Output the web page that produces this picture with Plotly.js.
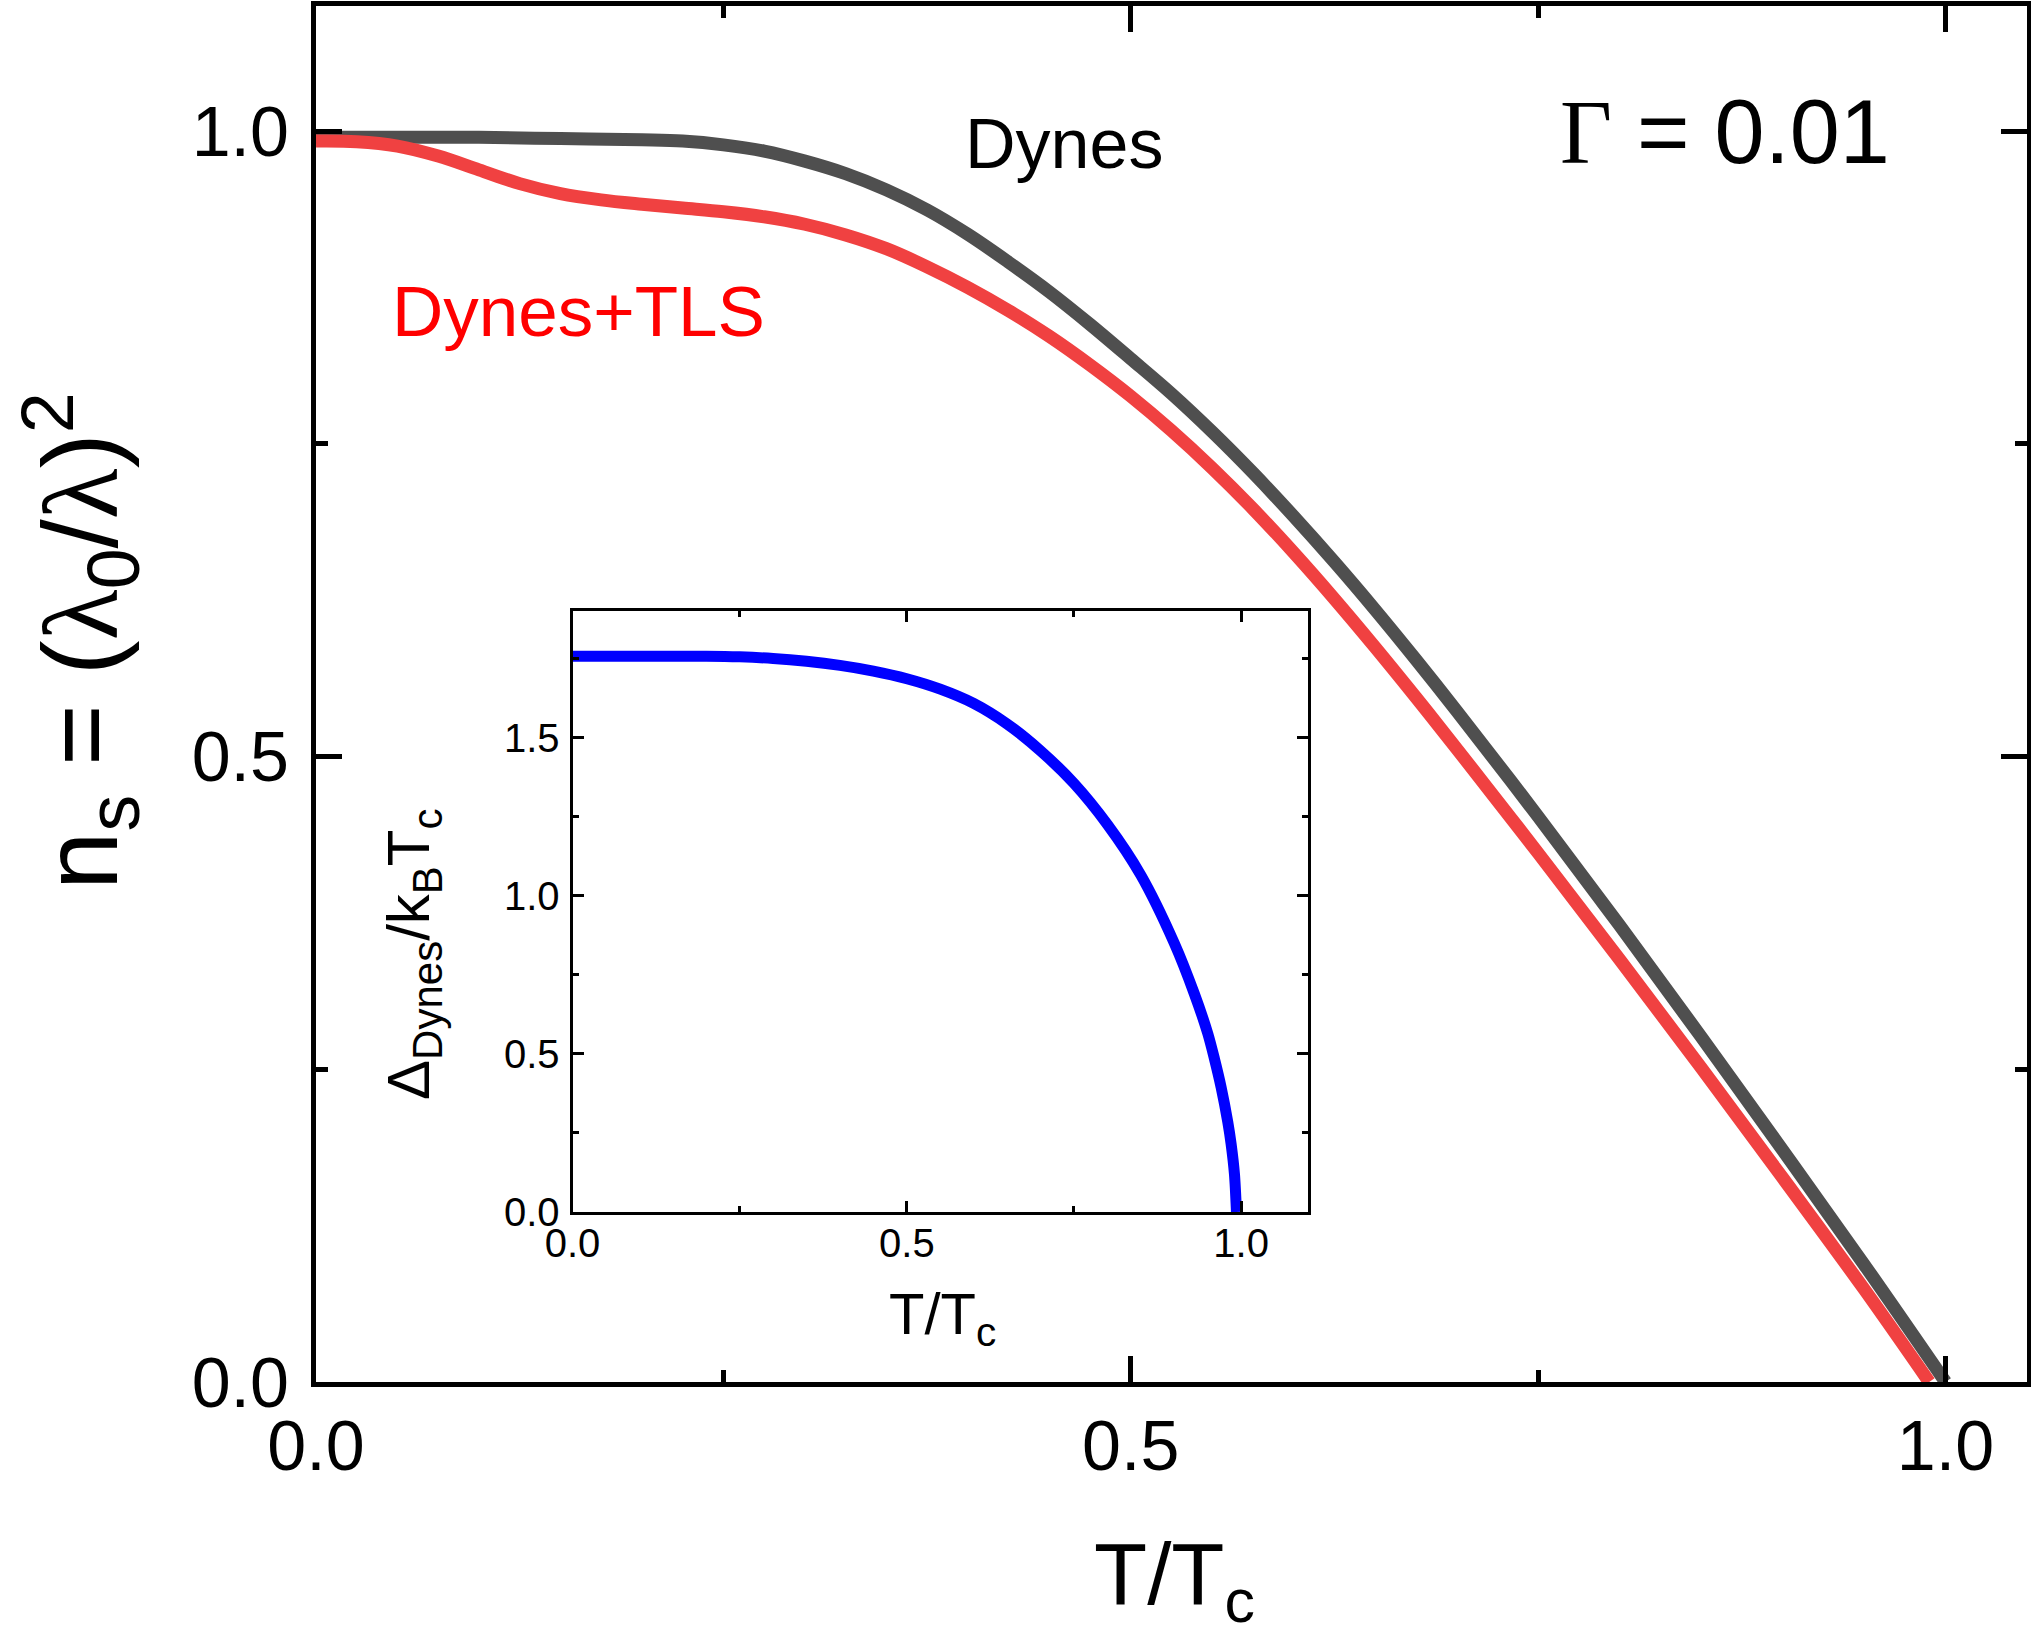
<!DOCTYPE html>
<html>
<head>
<meta charset="utf-8">
<script src="https://cdn.plot.ly/plotly-3.0.1.min.js"></script>
<style>
  body { margin: 0; background: white; }
  #chart { width: 2031px; height: 1646px; }
</style>
</head>
<body>
<div id="chart"></div>
<script>
// main panel: superfluid density vs T/Tc
var tDynes = [0, 0.1, 0.15, 0.2, 0.225, 0.25, 0.275, 0.3, 0.325, 0.35, 0.375, 0.4, 0.425, 0.45, 0.475, 0.5, 0.525, 0.55, 0.575, 0.6, 0.625, 0.65, 0.675, 0.7, 0.75, 0.8, 0.85, 0.9, 0.95, 1.0];
var nsDynes = [0.995, 0.995, 0.994, 0.993, 0.992, 0.989, 0.984, 0.976, 0.966, 0.953, 0.937, 0.9175, 0.8952, 0.8715, 0.8455, 0.818, 0.790, 0.7595, 0.7268, 0.692, 0.6555, 0.6173, 0.5775, 0.5365, 0.452, 0.365, 0.276, 0.1855, 0.094, 0];

var tTLS = [0, 0.025, 0.05, 0.075, 0.1, 0.125, 0.15, 0.175, 0.2, 0.225, 0.25, 0.275, 0.3, 0.325, 0.35, 0.375, 0.4, 0.425, 0.45, 0.475, 0.5, 0.525, 0.55, 0.575, 0.6, 0.625, 0.65, 0.675, 0.7, 0.75, 0.8, 0.85, 0.9, 0.95, 0.99];
var nsTLS = [0.992, 0.9915, 0.988, 0.980, 0.969, 0.958, 0.950, 0.945, 0.9415, 0.9385, 0.9355, 0.9315, 0.9255, 0.917, 0.906, 0.8915, 0.875, 0.8565, 0.836, 0.813, 0.788, 0.7605, 0.7305, 0.698, 0.663, 0.626, 0.5873, 0.5473, 0.5063, 0.4228, 0.3378, 0.2513, 0.1633, 0.0743, 0];

// inset: gap vs T/Tc
var tGap = [0, 0.1, 0.2, 0.25, 0.3, 0.35, 0.4, 0.45, 0.5, 0.55, 0.6, 0.65, 0.7, 0.75, 0.8, 0.85, 0.9, 0.93, 0.95, 0.96, 0.97, 0.98, 0.985, 0.99, 0.993];
var gapDynes = [1.757, 1.757, 1.757, 1.755, 1.75, 1.741, 1.728, 1.71, 1.686, 1.653, 1.608, 1.543, 1.458, 1.355, 1.225, 1.065, 0.85, 0.69, 0.565, 0.485, 0.395, 0.285, 0.215, 0.12, 0];

var mainTicks = [0, 0.5, 1.0];
var mainTickText = ["0.0", "0.5", "1.0"];
var insetYTicks = [0, 0.5, 1.0, 1.5];
var insetYTickText = ["0.0", "0.5", "1.0", "1.5"];

var W = 2031, H = 1646;
var M = {l: 316, r: 4, t: 6, b: 264};
var pw = W - M.l - M.r, ph = H - M.t - M.b;
function px(x) { return (x - M.l) / pw; }
function py(y) { return (H - M.b - y) / ph; }

var font = "Liberation Sans, Arial, sans-serif";
var serif = "Liberation Serif, Times New Roman, serif";

var traces = [
  {x: tDynes, y: nsDynes, type: 'scatter', mode: 'lines',
   line: {color: '#4f4f4f', width: 13, shape: 'spline', smoothing: 1}},
  {x: tTLS, y: nsTLS, type: 'scatter', mode: 'lines',
   line: {color: '#f04141', width: 13, shape: 'spline', smoothing: 1}},
  {x: tGap, y: gapDynes, type: 'scatter', mode: 'lines', xaxis: 'x2', yaxis: 'y2',
   line: {color: '#0000ff', width: 11, shape: 'spline', smoothing: 0.8}}
];

function axisStyle(o) {
  var base = {
    showline: true, linecolor: 'black', mirror: 'allticks',
    ticks: 'inside', tickcolor: 'black',
    showgrid: false, zeroline: false, fixedrange: true
  };
  for (var k in o) base[k] = o[k];
  return base;
}

var layout = {
  width: W, height: H,
  margin: {l: M.l, r: M.r, t: M.t, b: M.b, pad: 0},
  paper_bgcolor: 'white', plot_bgcolor: 'rgba(0,0,0,0)',
  showlegend: false,
  font: {family: font, color: 'black'},
  xaxis: axisStyle({
    domain: [0, 1], anchor: 'y', range: [0, 1.05],
    tickvals: mainTicks, ticktext: mainTickText,
    linewidth: 5, ticklen: 26, tickwidth: 5, ticklabelstandoff: -1,
    tickfont: {size: 70, family: font},
    minor: {tickvals: [0.25, 0.75], ticks: 'inside', ticklen: 12, tickwidth: 5, tickcolor: 'black', showgrid: false}
  }),
  yaxis: axisStyle({
    domain: [0, 1], anchor: 'x', range: [0, 1.1],
    tickvals: mainTicks, ticktext: mainTickText,
    linewidth: 5, ticklen: 26, tickwidth: 5, ticklabelstandoff: 8,
    tickfont: {size: 70, family: font},
    minor: {tickvals: [0.25, 0.75], ticks: 'inside', ticklen: 12, tickwidth: 5, tickcolor: 'black', showgrid: false}
  }),
  xaxis2: axisStyle({
    domain: [px(572.5), px(1308)], anchor: 'y2', range: [0, 1.1],
    tickvals: mainTicks, ticktext: mainTickText,
    linewidth: 3, ticklen: 11, tickwidth: 3, ticklabelstandoff: -6,
    tickfont: {size: 40, family: font},
    minor: {tickvals: [0.25, 0.75], ticks: 'inside', ticklen: 6, tickwidth: 3, tickcolor: 'black', showgrid: false}
  }),
  yaxis2: axisStyle({
    domain: [py(1212), py(611)], anchor: 'x2', range: [0, 1.9],
    tickvals: insetYTicks, ticktext: insetYTickText,
    linewidth: 3, ticklen: 11, tickwidth: 3, ticklabelstandoff: 2,
    tickfont: {size: 40, family: font},
    minor: {tickvals: [0.25, 0.75, 1.25, 1.75], ticks: 'inside', ticklen: 6, tickwidth: 3, tickcolor: 'black', showgrid: false}
  }),
  annotations: [
    // axis titles
    {text: 'n<sub>s</sub> = (<span style="font-family:' + serif + '">λ</span><sub>0</sub>/<span style="font-family:' + serif + '">λ</span>)<sup>2</sup>',
     xref: 'paper', yref: 'paper', x: px(80), y: py(641), xanchor: 'center', yanchor: 'middle',
     textangle: -90, showarrow: false, font: {size: 105, family: font, color: 'black'}},
    {text: 'T/T<sub>c</sub>', xref: 'paper', yref: 'paper', x: px(1174), y: py(1580),
     xanchor: 'center', yanchor: 'middle', showarrow: false, font: {size: 87, family: font, color: 'black'}},
    {text: 'Δ<sub>Dynes</sub>/k<sub>B</sub>T<sub>c</sub>', xref: 'paper', yref: 'paper', x: px(413), y: py(955),
     xanchor: 'center', yanchor: 'middle', textangle: -90, showarrow: false, font: {size: 60, family: font, color: 'black'}},
    {text: 'T/T<sub>c</sub>', xref: 'paper', yref: 'paper', x: px(942), y: py(1318),
     xanchor: 'center', yanchor: 'middle', showarrow: false, font: {size: 58, family: font, color: 'black'}},
    // curve labels
    {text: 'Dynes', xref: 'paper', yref: 'paper', x: px(963), y: py(144),
     xanchor: 'left', yanchor: 'middle', showarrow: false, font: {size: 70, family: font, color: 'black'}},
    {text: 'Dynes+TLS', xref: 'paper', yref: 'paper', x: px(390), y: py(312),
     xanchor: 'left', yanchor: 'middle', showarrow: false, font: {size: 71, family: font, color: '#ff0000'}},
    {text: '<span style="font-family:' + serif + '">Γ</span> = 0.01', xref: 'paper', yref: 'paper', x: px(1558), y: py(132),
     xanchor: 'left', yanchor: 'middle', showarrow: false, font: {size: 90, family: font, color: 'black'}}
  ]
};

Plotly.newPlot(document.getElementById('chart'), traces, layout, {displayModeBar: false, staticPlot: true});
</script>
</body>
</html>
